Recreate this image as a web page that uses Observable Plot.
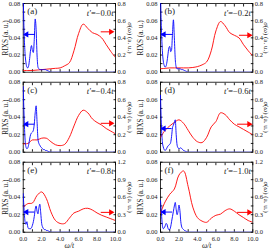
<!DOCTYPE html>
<html><head><meta charset="utf-8">
<script src="https://cdn.jsdelivr.net/npm/d3@7"></script>
<script src="https://cdn.jsdelivr.net/npm/@observablehq/plot@0.6"></script>
<style>
html,body{margin:0;padding:0;background:#fff;}
#chart{position:relative;width:270px;height:250px;overflow:hidden;font-family:"Liberation Serif",serif;}
.panel{position:absolute;}
</style></head><body><div id="chart"></div>
<script>
const panelLabels = ["(a)","(b)","(c)","(d)","(e)","(f)"];
const tPrime = ["0.0","0.2","0.4","0.6","0.8","1.0"];
const sigmaMax = [0.8,0.8,0.8,0.8,1.2,1.2];
const rixsTicks = [0,0.02,0.04,0.06,0.08];
const rixsMinor = [0,0.01,0.02,0.03,0.04,0.05,0.06,0.07,0.08];
const xMinor = [0,1,2,3,4,5,6,7,8,9,10];
const xTickLabels = [0,2,4,6,8,10];

const blueX = [0,0.1,0.2,0.3,0.4,0.5,0.6,0.7,0.8,0.9,1.0,1.1,1.2,1.3,1.4,1.5,1.6,1.7,1.8,1.9,2.0,2.1,2.2,2.3,2.4,2.5,2.6,2.7,2.8,2.9,3.0,10];
const blueA = [0.09,0.045,0.022,0.011,0.006,0.005,0.008,0.016,0.026,0.031,0.025,0.023,0.038,0.062,0.05,0.02,0.006,0.004,0.003,0.003,0.003,0.003,0.003,0.003,0.003,0.0025,0.002,0.0015,0.001,0.0005,0,0];
const blueB = [0.09,0.05,0.025,0.013,0.008,0.006,0.007,0.012,0.020,0.028,0.030,0.024,0.026,0.045,0.061,0.04,0.015,0.006,0.004,0.004,0.004,0.004,0.0035,0.003,0.003,0.0025,0.002,0.0015,0.001,0.0005,0,0];
const blueC = [0.075,0.04,0.015,0.006,0.004,0.005,0.009,0.015,0.020,0.022,0.023,0.025,0.032,0.045,0.053,0.035,0.015,0.010,0.008,0.006,0.005,0.004,0.003,0.003,0.002,0.002,0.0015,0.001,0.0005,0.0002,0,0];
const blueD = [0.065,0.03,0.012,0.006,0.003,0.002,0.003,0.005,0.007,0.008,0.009,0.011,0.018,0.028,0.031,0.034,0.037,0.02,0.008,0.005,0.004,0.0045,0.005,0.004,0.003,0.002,0.0015,0.001,0.0005,0.0002,0,0];
const blueE = [0.044,0.025,0.012,0.009,0.012,0.006,0.004,0.004,0.004,0.005,0.008,0.012,0.018,0.026,0.030,0.024,0.021,0.028,0.032,0.022,0.010,0.006,0.004,0.003,0.003,0.002,0.002,0.0015,0.001,0.0005,0,0];
const blueF = [0.036,0.022,0.008,0.004,0.005,0.007,0.010,0.009,0.005,0.003,0.003,0.006,0.012,0.018,0.024,0.030,0.034,0.026,0.020,0.024,0.031,0.025,0.012,0.006,0.004,0.003,0.002,0.0015,0.001,0.0005,0,0];

const redX = [0,0.5,1,1.5,2,2.5,3,3.5,4,4.5,5,5.5,6,6.5,7,7.5,8,8.5,9,9.5,10];
const redA = [0.02,0.02,0.02,0.025,0.03,0.035,0.04,0.045,0.05,0.075,0.11,0.25,0.45,0.56,0.51,0.46,0.44,0.4,0.32,0.24,0.17];
const redB = [0.04,0.045,0.05,0.05,0.05,0.05,0.05,0.055,0.065,0.085,0.12,0.25,0.48,0.59,0.54,0.46,0.43,0.4,0.32,0.25,0.19];
const redC = [0.095,0.1,0.14,0.14,0.16,0.16,0.12,0.085,0.075,0.09,0.17,0.3,0.42,0.48,0.45,0.38,0.34,0.31,0.27,0.24,0.21];
const redD = [0.17,0.25,0.3,0.34,0.37,0.33,0.25,0.17,0.12,0.11,0.17,0.29,0.35,0.45,0.43,0.37,0.32,0.29,0.26,0.23,0.2];
const redE = [0.43,0.49,0.5,0.63,0.69,0.58,0.35,0.2,0.15,0.15,0.24,0.33,0.36,0.4,0.41,0.38,0.33,0.29,0.26,0.23,0.2];
const redF = [0.33,0.52,0.65,0.74,0.98,1.05,0.78,0.43,0.25,0.19,0.17,0.24,0.29,0.31,0.37,0.4,0.36,0.3,0.25,0.2,0.17];

const blueArrowY = [0.044,0.044,0.032,0.027,0.023,0.023];
const blueArrowTail = [1.26,1.3,1.23,1.2,1.23,1.26];
const blueArrowHead = [0.36,0.36,0.36,0.36,0.36,0.36];
const redArrowSigma = [0.47,0.43,0.33,0.32,0.34,0.34];
const redArrowTail = [8.4,8.5,8.4,8.3,8.4,8.3];
const redArrowHead = [9.5,9.6,9.5,9.6,9.5,9.6];

const blueSeries = [blueA,blueB,blueC,blueD,blueE,blueF];
const redSeries = [redA,redB,redC,redD,redE,redF];
const BLUE = "#0000ff", RED = "#ff0000";
const FONT = "Liberation Serif";

const chart = document.getElementById("chart");

function panel(i) {
  const col = i % 2, row = Math.floor(i / 2);
  const bottom = row === 2;
  const width = 135, height = bottom ? 90 : 80;
  const mL = col ? 25 : 22.7, mR = col ? 17.7 : 20;
  const mT = row === 0 ? 3 : 1.7;
  const k = 0.08 / sigmaMax[i];
  const blue = blueX.map((x, j) => ({x, y: blueSeries[i][j]}));
  const red = redX.map((x, j) => ({x, y: redSeries[i][j] * k}));
  const ba = [{x1: blueArrowTail[i], x2: blueArrowHead[i], y: blueArrowY[i]}];
  const ra = [{x1: redArrowTail[i], x2: redArrowHead[i], y: redArrowSigma[i] * k}];
  const marks = [
    Plot.axisY({anchor: "left", ticks: rixsMinor, tickSize: -2.5, tickFormat: () => "", label: null}),
    Plot.axisY({anchor: "right", ticks: rixsMinor, tickSize: -2.5, tickFormat: () => "", label: null}),
    Plot.axisX({anchor: "bottom", ticks: xMinor, tickSize: -2.5, tickFormat: () => "", label: null}),
    Plot.axisX({anchor: "top", ticks: xMinor, tickSize: -2.5, tickFormat: () => "", label: null}),
    Plot.axisY({anchor: "left", ticks: rixsTicks, tickSize: 0, tickPadding: 3, tickFormat: d => d.toFixed(2), label: null, fontSize: 6.5}),
    Plot.axisY({anchor: "right", ticks: rixsTicks, tickSize: 0, tickPadding: 2, tickFormat: d => (d / k).toFixed(1), label: null, fontSize: 6.5}),
    Plot.frame({stroke: "black", strokeWidth: 0.8}),
    Plot.line(red, {x: "x", y: "y", stroke: RED, strokeWidth: 0.9, curve: "catmull-rom", clip: true}),
    Plot.line(blue, {x: "x", y: "y", stroke: BLUE, strokeWidth: 0.9, curve: "monotone-x", clip: true}),
    Plot.link(ba, {x1: "x1", x2: "x2", y1: "y", y2: "y", stroke: BLUE, strokeWidth: 1}),
    Plot.dot(ba, {x: "x2", y: "y", symbol: "triangle", r: 2.3, fill: BLUE, stroke: "none", rotate: -90}),
    Plot.link(ra, {x1: "x1", x2: "x2", y1: "y", y2: "y", stroke: RED, strokeWidth: 1}),
    Plot.dot(ra, {x: "x2", y: "y", symbol: "triangle", r: 2.3, fill: RED, stroke: "none", rotate: 90}),
    Plot.text([panelLabels[i]], {frameAnchor: "top-left", dx: 4, dy: 4, fontSize: 9}),
    Plot.text(["t′=−" + tPrime[i] + "t"], {frameAnchor: "top-right", dx: -2, dy: 6, fontSize: 8.5}),
    Plot.text(["RIXS (a. u.)"], {frameAnchor: "left", textAnchor: "middle", lineAnchor: "middle", rotate: -90, dx: col ? -20 : -18, fontSize: 7.2}),
    Plot.text(["σ(ω) (a. u.)"], {frameAnchor: "right", textAnchor: "middle", lineAnchor: "middle", rotate: 90, dx: col ? 13.2 : 14.5, fontSize: 7})
  ];
  if (bottom) {
    marks.push(Plot.axisX({anchor: "bottom", ticks: xTickLabels, tickSize: 0, tickPadding: 4, tickFormat: d => d.toFixed(1), label: null, fontSize: 6.5}));
    marks.push(Plot.text(["ω/t"], {frameAnchor: "bottom", lineAnchor: "middle", dy: 13.5, fontSize: 7.5}));
  }
  const svg = Plot.plot({
    width, height,
    marginLeft: mL, marginRight: mR, marginTop: mT, marginBottom: height - 71.7,
    x: {domain: [0, 10]},
    y: {domain: [0, 0.08]},
    style: {overflow: "visible", fontFamily: FONT, color: "#222", background: "transparent"},
    marks
  });
  const mkSpan = (t, txt, it) => {
    const sp = document.createElementNS("http://www.w3.org/2000/svg", "tspan");
    sp.textContent = txt;
    if (it) sp.setAttribute("font-style", "italic");
    t.appendChild(sp);
  };
  svg.querySelectorAll("text").forEach(t => {
    const s = t.textContent;
    if (s.startsWith("t′=")) {
      t.textContent = "";
      mkSpan(t, "t′", true); mkSpan(t, "=−" + tPrime[i], false); mkSpan(t, "t", true);
    } else if (s === "ω/t") {
      t.setAttribute("font-style", "italic");
    } else if (s === "σ(ω) (a. u.)") {
      t.textContent = "";
      mkSpan(t, "σ", true); mkSpan(t, "(", false); mkSpan(t, "ω", true); mkSpan(t, ") (a. u.)", false);
    }
  });
  const div = document.createElement("div");
  div.className = "panel";
  div.style.left = (col * 135) + "px";
  div.style.top = (row * 80) + "px";
  div.style.width = width + "px";
  div.style.height = height + "px";
  div.appendChild(svg);
  chart.appendChild(div);
}
for (let i = 0; i < 6; i++) panel(i);
</script></body></html>
